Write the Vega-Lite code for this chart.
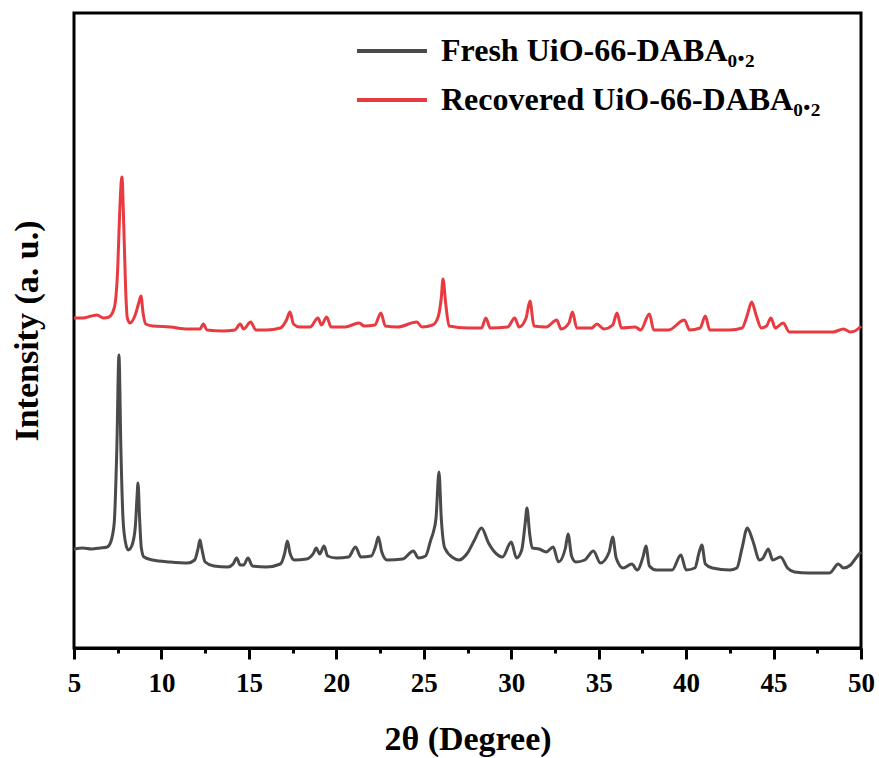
{
  "$schema": "https://vega.github.io/schema/vega-lite/v6.json",
  "width": 787,
  "height": 635,
  "autosize": {"type": "none"},
  "padding": {"left": 74, "top": 13, "right": 18, "bottom": 110},
  "background": "white",
  "config": {"view": {"stroke": "black", "strokeWidth": 3}, "font": "Liberation Serif"},
  "datasets": {
    "xrd": [
      {"s":"Fresh","x":5.0,"v":99},{"s":"Fresh","x":5.5,"v":100},{"s":"Fresh","x":6.0,"v":99},{"s":"Fresh","x":6.5,"v":100},{"s":"Fresh","x":6.9,"v":101},{"s":"Fresh","x":7.1,"v":106},{"s":"Fresh","x":7.3,"v":125},{"s":"Fresh","x":7.45,"v":200},{"s":"Fresh","x":7.57,"v":293},{"s":"Fresh","x":7.68,"v":200},{"s":"Fresh","x":7.8,"v":130},{"s":"Fresh","x":7.95,"v":105},{"s":"Fresh","x":8.1,"v":98},{"s":"Fresh","x":8.3,"v":102},{"s":"Fresh","x":8.5,"v":120},{"s":"Fresh","x":8.6,"v":150},{"s":"Fresh","x":8.66,"v":165},{"s":"Fresh","x":8.75,"v":130},{"s":"Fresh","x":8.85,"v":100},{"s":"Fresh","x":9.0,"v":91},{"s":"Fresh","x":9.5,"v":88},{"s":"Fresh","x":10.5,"v":86},{"s":"Fresh","x":11.5,"v":85},{"s":"Fresh","x":11.9,"v":88},{"s":"Fresh","x":12.1,"v":100},{"s":"Fresh","x":12.2,"v":108},{"s":"Fresh","x":12.3,"v":100},{"s":"Fresh","x":12.5,"v":86},{"s":"Fresh","x":13.0,"v":82},{"s":"Fresh","x":13.8,"v":81},{"s":"Fresh","x":14.1,"v":84},{"s":"Fresh","x":14.3,"v":90},{"s":"Fresh","x":14.5,"v":83},{"s":"Fresh","x":14.7,"v":83},{"s":"Fresh","x":14.95,"v":90},{"s":"Fresh","x":15.2,"v":82},{"s":"Fresh","x":16.0,"v":81},{"s":"Fresh","x":16.8,"v":84},{"s":"Fresh","x":17.05,"v":95},{"s":"Fresh","x":17.2,"v":107},{"s":"Fresh","x":17.35,"v":95},{"s":"Fresh","x":17.6,"v":88},{"s":"Fresh","x":18.3,"v":89},{"s":"Fresh","x":18.7,"v":95},{"s":"Fresh","x":18.85,"v":100},{"s":"Fresh","x":19.05,"v":94},{"s":"Fresh","x":19.3,"v":102},{"s":"Fresh","x":19.5,"v":92},{"s":"Fresh","x":20.0,"v":90},{"s":"Fresh","x":20.7,"v":91},{"s":"Fresh","x":21.1,"v":101},{"s":"Fresh","x":21.4,"v":91},{"s":"Fresh","x":22.0,"v":92},{"s":"Fresh","x":22.25,"v":102},{"s":"Fresh","x":22.4,"v":111},{"s":"Fresh","x":22.6,"v":96},{"s":"Fresh","x":22.9,"v":88},{"s":"Fresh","x":23.8,"v":89},{"s":"Fresh","x":24.4,"v":97},{"s":"Fresh","x":24.7,"v":90},{"s":"Fresh","x":25.1,"v":92},{"s":"Fresh","x":25.4,"v":108},{"s":"Fresh","x":25.55,"v":116},{"s":"Fresh","x":25.7,"v":130},{"s":"Fresh","x":25.87,"v":176},{"s":"Fresh","x":26.0,"v":130},{"s":"Fresh","x":26.2,"v":100},{"s":"Fresh","x":26.7,"v":90},{"s":"Fresh","x":27.0,"v":88},{"s":"Fresh","x":27.5,"v":95},{"s":"Fresh","x":27.9,"v":108},{"s":"Fresh","x":28.3,"v":120},{"s":"Fresh","x":28.7,"v":105},{"s":"Fresh","x":29.0,"v":97},{"s":"Fresh","x":29.5,"v":91},{"s":"Fresh","x":30.0,"v":106},{"s":"Fresh","x":30.3,"v":90},{"s":"Fresh","x":30.6,"v":98},{"s":"Fresh","x":30.8,"v":125},{"s":"Fresh","x":30.9,"v":140},{"s":"Fresh","x":31.05,"v":115},{"s":"Fresh","x":31.2,"v":100},{"s":"Fresh","x":31.6,"v":99},{"s":"Fresh","x":32.0,"v":96},{"s":"Fresh","x":32.4,"v":101},{"s":"Fresh","x":32.7,"v":86},{"s":"Fresh","x":33.1,"v":100},{"s":"Fresh","x":33.25,"v":114},{"s":"Fresh","x":33.45,"v":92},{"s":"Fresh","x":33.7,"v":86},{"s":"Fresh","x":34.2,"v":88},{"s":"Fresh","x":34.7,"v":97},{"s":"Fresh","x":35.1,"v":85},{"s":"Fresh","x":35.6,"v":96},{"s":"Fresh","x":35.8,"v":111},{"s":"Fresh","x":36.0,"v":90},{"s":"Fresh","x":36.4,"v":80},{"s":"Fresh","x":36.9,"v":84},{"s":"Fresh","x":37.2,"v":78},{"s":"Fresh","x":37.55,"v":92},{"s":"Fresh","x":37.7,"v":102},{"s":"Fresh","x":37.9,"v":82},{"s":"Fresh","x":38.3,"v":78},{"s":"Fresh","x":39.2,"v":78},{"s":"Fresh","x":39.7,"v":93},{"s":"Fresh","x":40.0,"v":78},{"s":"Fresh","x":40.5,"v":80},{"s":"Fresh","x":40.75,"v":96},{"s":"Fresh","x":40.9,"v":103},{"s":"Fresh","x":41.1,"v":84},{"s":"Fresh","x":41.5,"v":80},{"s":"Fresh","x":42.5,"v":78},{"s":"Fresh","x":42.9,"v":80},{"s":"Fresh","x":43.2,"v":100},{"s":"Fresh","x":43.5,"v":120},{"s":"Fresh","x":43.8,"v":108},{"s":"Fresh","x":44.2,"v":88},{"s":"Fresh","x":44.4,"v":90},{"s":"Fresh","x":44.7,"v":99},{"s":"Fresh","x":44.95,"v":88},{"s":"Fresh","x":45.4,"v":91},{"s":"Fresh","x":45.8,"v":80},{"s":"Fresh","x":46.2,"v":76},{"s":"Fresh","x":47.0,"v":75},{"s":"Fresh","x":48.2,"v":75},{"s":"Fresh","x":48.7,"v":84},{"s":"Fresh","x":49.0,"v":80},{"s":"Fresh","x":49.4,"v":83},{"s":"Fresh","x":49.8,"v":92},{"s":"Fresh","x":50.0,"v":96},
      {"s":"Recovered","x":5.0,"v":330},{"s":"Recovered","x":5.5,"v":330},{"s":"Recovered","x":6.0,"v":332},{"s":"Recovered","x":6.3,"v":333},{"s":"Recovered","x":6.7,"v":330},{"s":"Recovered","x":7.0,"v":331},{"s":"Recovered","x":7.3,"v":340},{"s":"Recovered","x":7.5,"v":380},{"s":"Recovered","x":7.6,"v":430},{"s":"Recovered","x":7.74,"v":471},{"s":"Recovered","x":7.85,"v":420},{"s":"Recovered","x":7.95,"v":360},{"s":"Recovered","x":8.05,"v":330},{"s":"Recovered","x":8.2,"v":325},{"s":"Recovered","x":8.5,"v":333},{"s":"Recovered","x":8.7,"v":345},{"s":"Recovered","x":8.83,"v":352},{"s":"Recovered","x":8.95,"v":335},{"s":"Recovered","x":9.1,"v":324},{"s":"Recovered","x":9.5,"v":322},{"s":"Recovered","x":10.5,"v":321},{"s":"Recovered","x":11.5,"v":319},{"s":"Recovered","x":12.2,"v":319},{"s":"Recovered","x":12.4,"v":324},{"s":"Recovered","x":12.6,"v":318},{"s":"Recovered","x":13.5,"v":317},{"s":"Recovered","x":14.2,"v":318},{"s":"Recovered","x":14.5,"v":324},{"s":"Recovered","x":14.7,"v":319},{"s":"Recovered","x":15.1,"v":326},{"s":"Recovered","x":15.4,"v":318},{"s":"Recovered","x":16.0,"v":318},{"s":"Recovered","x":16.8,"v":320},{"s":"Recovered","x":17.15,"v":328},{"s":"Recovered","x":17.35,"v":336},{"s":"Recovered","x":17.55,"v":324},{"s":"Recovered","x":17.9,"v":321},{"s":"Recovered","x":18.5,"v":321},{"s":"Recovered","x":18.95,"v":330},{"s":"Recovered","x":19.15,"v":323},{"s":"Recovered","x":19.45,"v":331},{"s":"Recovered","x":19.7,"v":321},{"s":"Recovered","x":20.5,"v":321},{"s":"Recovered","x":21.3,"v":325},{"s":"Recovered","x":21.6,"v":322},{"s":"Recovered","x":22.2,"v":323},{"s":"Recovered","x":22.55,"v":335},{"s":"Recovered","x":22.8,"v":322},{"s":"Recovered","x":23.5,"v":321},{"s":"Recovered","x":24.6,"v":326},{"s":"Recovered","x":24.9,"v":321},{"s":"Recovered","x":25.5,"v":323},{"s":"Recovered","x":25.8,"v":330},{"s":"Recovered","x":26.0,"v":350},{"s":"Recovered","x":26.1,"v":369},{"s":"Recovered","x":26.25,"v":345},{"s":"Recovered","x":26.45,"v":322},{"s":"Recovered","x":27.5,"v":320},{"s":"Recovered","x":28.3,"v":320},{"s":"Recovered","x":28.55,"v":330},{"s":"Recovered","x":28.8,"v":320},{"s":"Recovered","x":29.8,"v":321},{"s":"Recovered","x":30.2,"v":330},{"s":"Recovered","x":30.45,"v":321},{"s":"Recovered","x":30.85,"v":330},{"s":"Recovered","x":31.07,"v":347},{"s":"Recovered","x":31.3,"v":322},{"s":"Recovered","x":32.0,"v":321},{"s":"Recovered","x":32.6,"v":328},{"s":"Recovered","x":32.85,"v":319},{"s":"Recovered","x":33.3,"v":325},{"s":"Recovered","x":33.5,"v":336},{"s":"Recovered","x":33.75,"v":320},{"s":"Recovered","x":34.6,"v":320},{"s":"Recovered","x":34.9,"v":324},{"s":"Recovered","x":35.3,"v":319},{"s":"Recovered","x":35.8,"v":323},{"s":"Recovered","x":36.05,"v":335},{"s":"Recovered","x":36.3,"v":320},{"s":"Recovered","x":37.1,"v":321},{"s":"Recovered","x":37.4,"v":318},{"s":"Recovered","x":37.9,"v":334},{"s":"Recovered","x":38.15,"v":318},{"s":"Recovered","x":39.0,"v":318},{"s":"Recovered","x":39.9,"v":328},{"s":"Recovered","x":40.2,"v":318},{"s":"Recovered","x":40.8,"v":320},{"s":"Recovered","x":41.1,"v":332},{"s":"Recovered","x":41.35,"v":318},{"s":"Recovered","x":42.5,"v":318},{"s":"Recovered","x":43.2,"v":320},{"s":"Recovered","x":43.5,"v":333},{"s":"Recovered","x":43.75,"v":346},{"s":"Recovered","x":44.0,"v":333},{"s":"Recovered","x":44.3,"v":320},{"s":"Recovered","x":44.6,"v":322},{"s":"Recovered","x":44.85,"v":330},{"s":"Recovered","x":45.1,"v":320},{"s":"Recovered","x":45.55,"v":325},{"s":"Recovered","x":45.9,"v":316},{"s":"Recovered","x":47.0,"v":316},{"s":"Recovered","x":48.4,"v":316},{"s":"Recovered","x":49.0,"v":319},{"s":"Recovered","x":49.4,"v":316},{"s":"Recovered","x":49.95,"v":321},{"s":"Recovered","x":50.0,"v":322}
    ],
    "minor": [{"x":7.5},{"x":12.5},{"x":17.5},{"x":22.5},{"x":27.5},{"x":32.5},{"x":37.5},{"x":42.5},{"x":47.5}]
  },
  "layer": [
    {
      "data": {"name": "xrd"},
      "mark": {"type": "line", "strokeWidth": 3, "strokeJoin": "round", "interpolate": "monotone"},
      "encoding": {
        "x": {"field": "x", "type": "quantitative",
          "scale": {"domain": [5, 50], "nice": false, "zero": false},
          "axis": {"title": "2θ (Degree)", "orient": "bottom", "values": [5,10,15,20,25,30,35,40,45,50], "grid": false,
            "domainColor": "black", "domainWidth": 3, "tickColor": "black", "tickWidth": 3, "tickSize": 11,
            "labelFont": "Liberation Serif", "labelFontSize": 27, "labelFontWeight": "bold", "labelColor": "black",
            "labelPadding": 11, "labelFlush": false, "labelOverlap": false,
            "titleFont": "Liberation Serif", "titleFontSize": 34, "titleFontWeight": "bold", "titleColor": "black", "titlePadding": 26}},
        "y": {"field": "v", "type": "quantitative",
          "scale": {"domain": [0, 635], "nice": false, "zero": false},
          "axis": {"title": "Intensity (a. u.)", "labels": false, "ticks": false, "domain": false, "grid": false,
            "titleFont": "Liberation Serif", "titleFontSize": 34, "titleFontWeight": "bold", "titleColor": "black", "titlePadding": 30}},
        "color": {"field": "s", "type": "nominal",
          "scale": {"domain": ["Fresh", "Recovered"], "range": ["#4a4a4a", "#e83a40"]},
          "legend": {"title": null, "orient": "none", "legendX": 302, "legendY": 22, "padding": 0,
            "symbolType": "M-3,0H3", "symbolSize": 544, "symbolStrokeWidth": 4,
            "labelFont": "Liberation Serif", "labelFontSize": 32, "labelFontWeight": "bold", "labelColor": "black",
            "labelOffset": 33, "rowPadding": 17, "labelLimit": 600,
            "labelExpr": "datum.label == 'Fresh' ? 'Fresh UiO-66-DABA₀.₂' : 'Recovered UiO-66-DABA₀.₂'"}}
      }
    },
    {
      "data": {"name": "minor"},
      "mark": {"type": "rule", "opacity": 0},
      "encoding": {
        "x": {"field": "x", "type": "quantitative",
          "scale": {"domain": [5, 50], "nice": false, "zero": false},
          "axis": {"orient": "bottom", "title": null, "values": [7.5,12.5,17.5,22.5,27.5,32.5,37.5,42.5,47.5], "labels": false, "domain": false, "grid": false,
            "tickColor": "black", "tickWidth": 3, "tickSize": 5}}
      }
    }
  ],
  "resolve": {"axis": {"x": "independent"}}
}
